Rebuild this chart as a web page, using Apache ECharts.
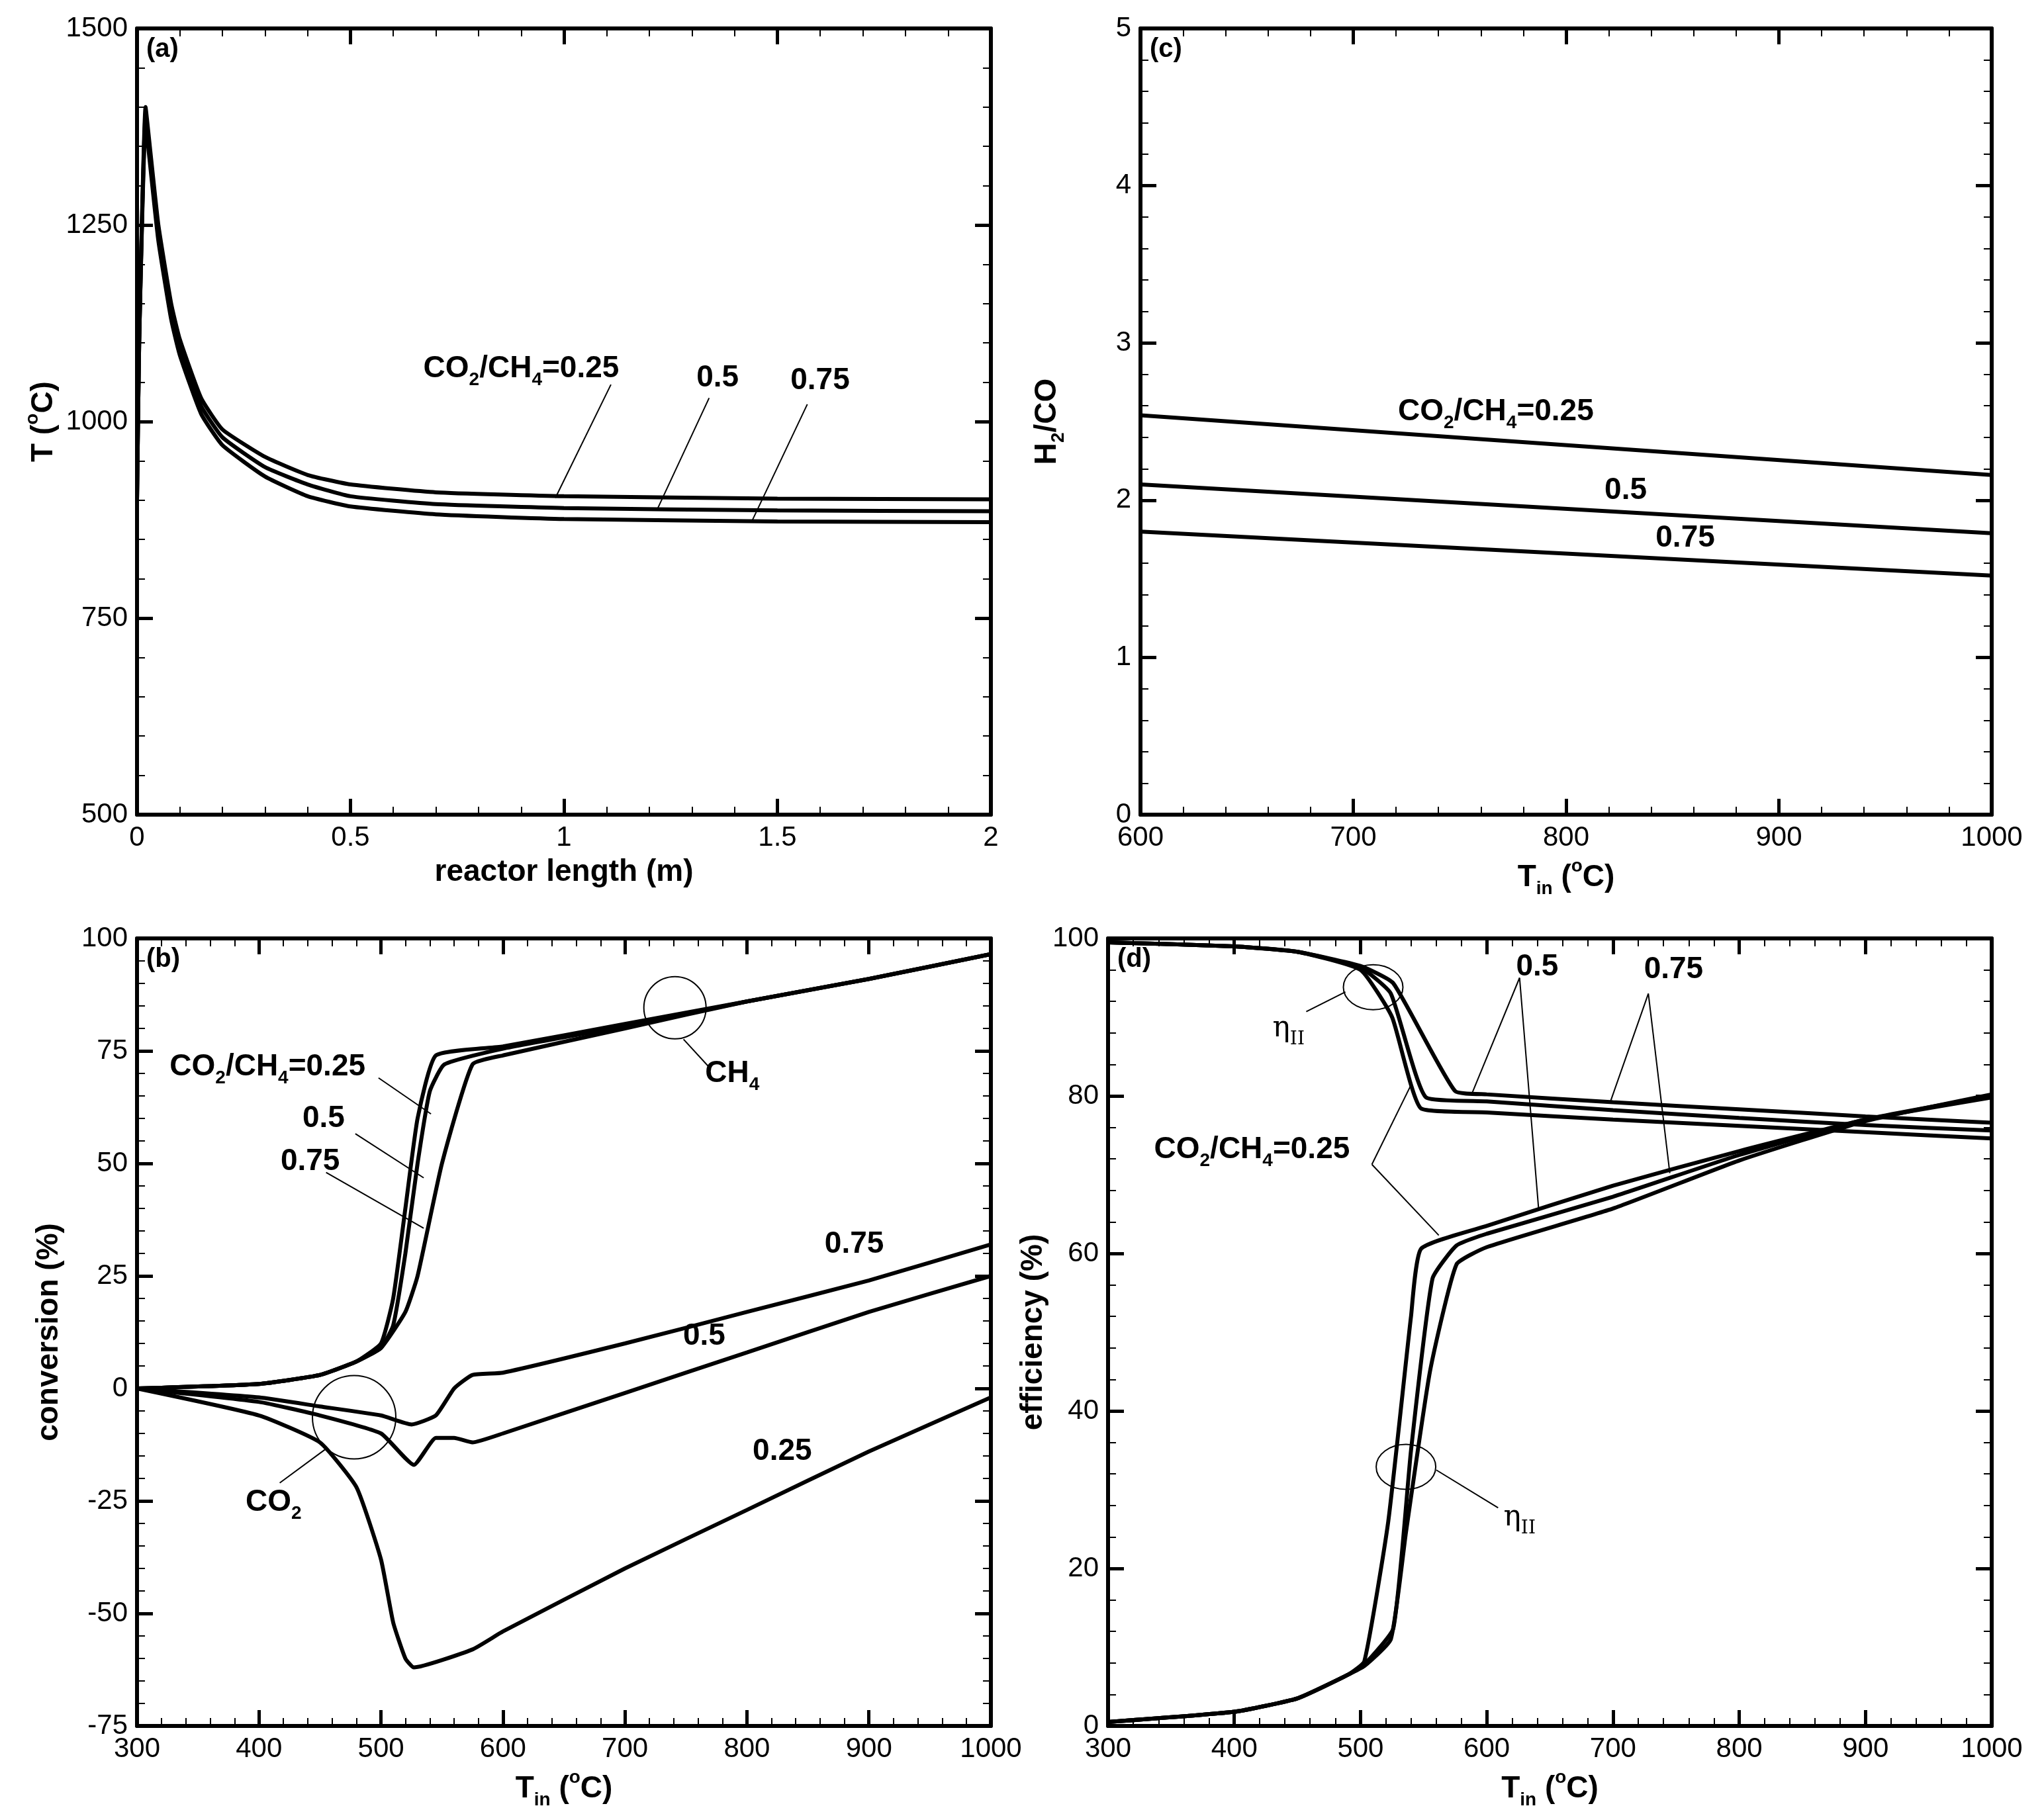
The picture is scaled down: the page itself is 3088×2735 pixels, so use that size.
<!DOCTYPE html>
<html>
<head>
<meta charset="utf-8">
<script src="https://cdn.jsdelivr.net/npm/echarts@6/dist/echarts.min.js"></script>
<style>html,body{margin:0;background:#fff}#main{width:3088px;height:2735px}</style>
</head>
<body>
<div id="main"></div>
<script>
// (a) temperature along reactor
var aX = [0, 0.005, 0.02, 0.03, 0.05, 0.08, 0.1, 0.15, 0.2, 0.3, 0.4, 0.5, 0.7, 1, 1.5, 2];
var a025 = [900, 1100, 1400, 1350, 1250, 1150, 1105, 1030, 990, 955, 932, 920, 910, 905, 902, 901];
var a050 = [900, 1100, 1390, 1340, 1240, 1140, 1095, 1020, 980, 942, 920, 905, 895, 890, 887, 886];
var a075 = [900, 1100, 1380, 1330, 1230, 1130, 1085, 1010, 970, 930, 905, 892, 882, 876, 873, 872];
// (c) H2/CO
var cX = [600, 1000];
var c025 = [2.54, 2.16];
var c050 = [2.10, 1.79];
var c075 = [1.80, 1.52];
// (b) conversion
var bCH4x025 = [300, 400, 450, 480, 500, 510, 520, 530, 545, 600, 700, 800, 900, 1000];
var bCH4y025 = [0, 1, 3, 6, 10, 20, 40, 60, 74, 76, 81, 86, 91, 96.5];
var bCH4x050 = [300, 400, 450, 480, 500, 510, 520, 530, 540, 552, 600, 700, 800, 900, 1000];
var bCH4y050 = [0, 1, 3, 6, 9, 14, 30, 50, 66, 72, 75.5, 80.5, 86, 91, 96.5];
var bCH4x075 = [300, 400, 450, 480, 500, 520, 530, 550, 575, 600, 700, 800, 900, 1000];
var bCH4y075 = [0, 1, 3, 6, 9, 17, 25, 50, 72, 74, 80, 86, 91, 96.5];
var bCO2x075 = [300, 400, 450, 500, 525, 545, 560, 575, 600, 700, 800, 900, 1000];
var bCO2y075 = [0, -2, -4, -6, -8, -6, 0, 3, 3.5, 10, 17, 24, 32];
var bCO2x050 = [300, 400, 450, 500, 527, 545, 560, 575, 600, 700, 800, 900, 1000];
var bCO2y050 = [0, -3, -6, -10, -17, -11, -11, -12, -10, -1, 8, 17, 25];
var bCO2x025 = [300, 400, 450, 480, 500, 510, 520, 527, 575, 600, 700, 800, 900, 1000];
var bCO2y025 = [0, -6, -12, -22, -38, -52, -60, -62, -58, -54, -40, -27, -14, -2];
// (d) efficiency
var dTopX025 = [300, 400, 450, 500, 525, 548, 600, 700, 800, 900, 1000];
var dTopY025 = [99.5, 99, 98.3, 96, 90, 78.4, 77.9, 77, 76.2, 75.4, 74.6];
var dTopX050 = [300, 400, 450, 500, 524, 552, 600, 700, 800, 900, 1000];
var dTopY050 = [99.5, 99, 98.3, 96.3, 93, 79.8, 79.3, 78.2, 77.2, 76.3, 75.6];
var dTopX075 = [300, 400, 450, 500, 526, 575, 600, 700, 800, 900, 1000];
var dTopY075 = [99.5, 99, 98.3, 96.5, 94.3, 80.6, 80.2, 79.2, 78.3, 77.4, 76.6];
var dBotX025 = [300, 400, 450, 490, 503, 522, 540, 548, 600, 700, 800, 900, 1000];
var dBotY025 = [0.5, 1.8, 3.5, 6.5, 8.2, 26, 52, 60.6, 63.5, 68.6, 73, 77, 79.8];
var dBotX050 = [300, 400, 450, 490, 503, 526, 540, 557, 576, 600, 700, 800, 900, 1000];
var dBotY050 = [0.5, 1.8, 3.5, 6.5, 7.8, 12.4, 35, 56.8, 61, 62.5, 67.2, 72.5, 77, 80];
var dBotX075 = [300, 400, 450, 490, 503, 524, 536, 555, 576, 600, 700, 800, 900, 1000];
var dBotY075 = [0.5, 1.8, 3.5, 6.5, 7.6, 11, 24.6, 45, 58.6, 60.8, 65.7, 71.8, 76.8, 80.2];

function pairs(xs, ys) { return xs.map(function (x, i) { return [x, ys[i]]; }); }

var FONT = 'Liberation Sans';
var rich = {
	n: {fontFamily: FONT, fontWeight: 'bold', fontSize: 46, color: '#000', verticalAlign: 'middle'},
	s: {fontFamily: FONT, fontWeight: 'bold', fontSize: 28, color: '#000', verticalAlign: 'bottom', lineHeight: 62},
	u: {fontFamily: FONT, fontWeight: 'bold', fontSize: 28, color: '#000', verticalAlign: 'top', lineHeight: 62},
	g: {fontFamily: 'DejaVu Serif', fontSize: 44, color: '#000', verticalAlign: 'middle'},
	gs: {fontFamily: 'DejaVu Serif', fontSize: 28, color: '#000', verticalAlign: 'bottom', lineHeight: 60}
};

var grids = [
	{left: 207, top: 43, width: 1290, height: 1188},
	{left: 207, top: 1418, width: 1290, height: 1230},
	{left: 1723, top: 43, width: 1286, height: 1188},
	{left: 1674, top: 1418, width: 1335, height: 1230}
];
var xr = [[0, 2, 0.5], [300, 1000, 100], [600, 1000, 100], [300, 1000, 100]];
var yr = [[500, 1500, 250], [-75, 100, 25], [0, 5, 1], [0, 100, 20]];
var xNames = ['{n|reactor length (m)}', '{n|T}{s|in}{n| (}{u|o}{n|C)}', '{n|T}{s|in}{n| (}{u|o}{n|C)}', '{n|T}{s|in}{n| (}{u|o}{n|C)}'];
var yNames = ['{n|T (}{u|o}{n|C)}', '{n|conversion (%)}', '{n|H}{s|2}{n|/CO}', '{n|efficiency (%)}'];

var xAxes = [], yAxes = [];
grids.forEach(function (g, i) {
	var lineS = {onZero: false, lineStyle: {color: '#000', width: 6}};
	var tick = {show: true, inside: true, length: 24, lineStyle: {color: '#000', width: 5}};
	var minor = {show: true, length: 12, splitNumber: 5, lineStyle: {color: '#000', width: 2}};
	var lab = {color: '#000', fontSize: 42, fontFamily: FONT, margin: 14,
		formatter: function (v) { return String(Math.round(v * 100) / 100); }};
	xAxes.push({type: 'value', gridIndex: i, position: 'bottom', min: xr[i][0], max: xr[i][1], interval: xr[i][2],
		axisLine: lineS, axisTick: tick, minorTick: minor, axisLabel: lab, splitLine: {show: false},
		name: xNames[i], nameLocation: 'middle', nameGap: 64, nameTextStyle: {rich: rich}});
	xAxes.push({type: 'value', gridIndex: i, position: 'top', min: xr[i][0], max: xr[i][1], interval: xr[i][2],
		axisLine: lineS, axisTick: tick, minorTick: minor, axisLabel: {show: false}, splitLine: {show: false}});
	yAxes.push({type: 'value', gridIndex: i, position: 'left', min: yr[i][0], max: yr[i][1], interval: yr[i][2],
		axisLine: lineS, axisTick: tick, minorTick: minor, axisLabel: lab, splitLine: {show: false},
		name: yNames[i], nameLocation: 'middle', nameRotate: 90, nameGap: i == 3 ? 90 : 110, nameTextStyle: {rich: rich}});
	yAxes.push({type: 'value', gridIndex: i, position: 'right', min: yr[i][0], max: yr[i][1], interval: yr[i][2],
		axisLine: lineS, axisTick: tick, minorTick: minor, axisLabel: {show: false}, splitLine: {show: false}});
});

var series = [];
function addLine(gi, data) {
	series.push({type: 'line', xAxisIndex: gi * 2, yAxisIndex: gi * 2, data: data, showSymbol: false,
		smooth: 0.15, lineStyle: {color: '#000', width: 6}, silent: true, animation: false});
}
addLine(0, pairs(aX, a025)); addLine(0, pairs(aX, a050)); addLine(0, pairs(aX, a075));
addLine(1, pairs(bCH4x025, bCH4y025)); addLine(1, pairs(bCH4x050, bCH4y050)); addLine(1, pairs(bCH4x075, bCH4y075));
addLine(1, pairs(bCO2x025, bCO2y025)); addLine(1, pairs(bCO2x050, bCO2y050)); addLine(1, pairs(bCO2x075, bCO2y075));
addLine(2, pairs(cX, c025)); addLine(2, pairs(cX, c050)); addLine(2, pairs(cX, c075));
addLine(3, pairs(dTopX025, dTopY025)); addLine(3, pairs(dTopX050, dTopY050)); addLine(3, pairs(dTopX075, dTopY075));
addLine(3, pairs(dBotX025, dBotY025)); addLine(3, pairs(dBotX050, dBotY050)); addLine(3, pairs(dBotX075, dBotY075));

var chart = echarts.init(document.getElementById('main'));
chart.setOption({animation: false, backgroundColor: '#fff', grid: grids, xAxis: xAxes, yAxis: yAxes, series: series});

// annotations in data coordinates
var R = '{n|CO}{s|2}{n|/CH}{s|4}{n|=0.25}';
var texts = [
	[0, 0.9, 1067, R], [0, 1.36, 1055, '{n|0.5}'], [0, 1.6, 1052, '{n|0.75}'],
	[2, 767, 2.56, R], [2, 828, 2.06, '{n|0.5}'], [2, 856, 1.76, '{n|0.75}'],
	[1, 407, 71.4, R], [1, 453, 60, '{n|0.5}'], [1, 442, 50.4, '{n|0.75}'],
	[1, 788, 70, '{n|CH}{s|4}'], [1, 412, -25.4, '{n|CO}{s|2}'],
	[1, 888, 32, '{n|0.75}'], [1, 765, 11.5, '{n|0.5}'], [1, 829, -14, '{n|0.25}'],
	[3, 443, 88.5, '{g|η}{gs|II}'], [3, 626, 26.4, '{g|η}{gs|II}'],
	[3, 640, 96.4, '{n|0.5}'], [3, 748, 96, '{n|0.75}'], [3, 414, 73.2, R]
];
var lines = [
	[0, 1.11, 1047, 0.98, 903], [0, 1.34, 1030, 1.22, 890], [0, 1.57, 1022, 1.44, 873],
	[1, 498, 69, 541, 61], [1, 479, 56.6, 535, 46.8], [1, 455, 48, 535, 35.6],
	[1, 748, 77.6, 769, 71.4], [1, 455, -13.4, 417, -21],
	[3, 488, 93.2, 457, 90.7], [3, 560, 32.5, 609, 27.7],
	[3, 626, 95, 588, 80.2], [3, 626, 95, 641, 65.8],
	[3, 728, 93, 698, 79.3], [3, 728, 93, 745, 70.2],
	[3, 509, 71.3, 540, 81.4], [3, 509, 71.3, 562, 62.3]
];
var circles = [[1, 741, 84.6, 47, 47], [1, 478, -6.4, 63, 63], [3, 510, 93.8, 45, 34], [3, 536, 32.9, 45, 34]];
var panels = ['(a)', '(b)', '(c)', '(d)'];

var gr = [];
function px(gi, x, y) { return chart.convertToPixel({gridIndex: gi}, [x, y]); }
texts.forEach(function (t) {
	var p = px(t[0], t[1], t[2]);
	gr.push({type: 'text', x: p[0], y: p[1], silent: true,
		style: {text: t[3], rich: rich, align: 'center', verticalAlign: 'middle'}});
});
lines.forEach(function (l) {
	var p1 = px(l[0], l[1], l[2]), p2 = px(l[0], l[3], l[4]);
	gr.push({type: 'line', silent: true, shape: {x1: p1[0], y1: p1[1], x2: p2[0], y2: p2[1]},
		style: {stroke: '#000', lineWidth: 2}});
});
circles.forEach(function (c) {
	var p = px(c[0], c[1], c[2]);
	gr.push({type: 'ellipse', silent: true, shape: {cx: p[0], cy: p[1], rx: c[3], ry: c[4]},
		style: {fill: 'none', stroke: '#000', lineWidth: 2}});
});
grids.forEach(function (g, i) {
	gr.push({type: 'text', x: g.left + 14, y: g.top + 12, silent: true,
		style: {text: panels[i], fontFamily: FONT, fontWeight: 'bold', fontSize: 40, fill: '#000'}});
});
chart.setOption({graphic: gr});
</script>
</body>
</html>
